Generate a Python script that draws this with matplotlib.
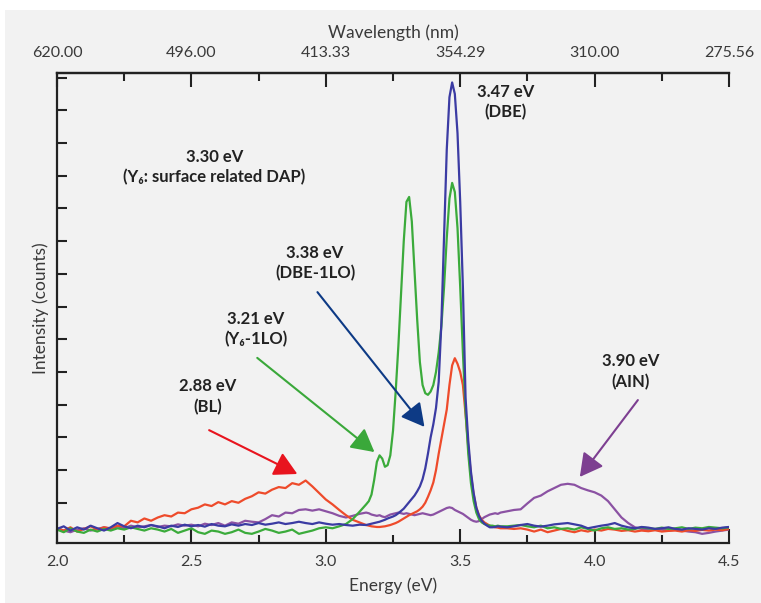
import numpy as np
import matplotlib
matplotlib.use('Agg')
import matplotlib.pyplot as plt
from matplotlib.patches import Rectangle

plt.rcParams['font.family'] = ['Lato', 'DejaVu Sans']

# energy sampling (eV): coarse on the flat parts, fine across the band-edge peaks
energy_left = np.round(np.arange(2.0, 3.126, 0.025), 3)    # 46 pts
energy_mid = np.round(np.arange(3.15, 3.651, 0.01), 2)     # 51 pts
energy_right = np.round(np.arange(3.675, 4.501, 0.025), 3)  # 34 pts
energy = np.concatenate([energy_left, energy_mid, energy_right])

# intensities (arb. units, one y tick = 1)
red_bl = [
    0.22, 0.15, 0.25, 0.12, 0.20, 0.28, 0.18, 0.25, 0.22, 0.30,
    0.28, 0.45, 0.40, 0.52, 0.45, 0.55, 0.62, 0.58, 0.70, 0.68,
    0.80, 0.85, 0.95, 0.90, 1.02, 0.95, 1.05, 1.00, 1.12, 1.20,
    1.32, 1.28, 1.40, 1.48, 1.45, 1.60, 1.55, 1.68, 1.50, 1.30,
    1.10, 0.95, 0.78, 0.62, 0.48, 0.40,
    0.32, 0.30, 0.28, 0.27, 0.26, 0.26, 0.27, 0.28, 0.30, 0.32,
    0.35, 0.38, 0.42, 0.47, 0.52, 0.57, 0.62, 0.66, 0.70, 0.74,
    0.80, 0.88, 1.00, 1.18, 1.38, 1.62, 2.00, 2.50, 2.95, 3.40,
    3.85, 4.60, 5.20, 5.42, 5.25, 5.00, 4.60, 3.70, 2.70, 1.85,
    1.25, 0.85, 0.62, 0.48, 0.40, 0.35, 0.30, 0.27, 0.25, 0.24,
    0.22,
    0.22, 0.20, 0.22, 0.18, 0.12, 0.18, 0.10, 0.15, 0.20, 0.14,
    0.10, 0.16, 0.12, 0.18, 0.15, 0.20, 0.18, 0.14, 0.16, 0.12,
    0.15, 0.13, 0.16, 0.12, 0.14, 0.15, 0.12, 0.16, 0.14, 0.17,
    0.15, 0.18, 0.16, 0.20,
]
green_y6 = [
    0.18, 0.10, 0.22, 0.12, 0.08, 0.18, 0.12, 0.20, 0.15, 0.22,
    0.18, 0.25, 0.20, 0.15, 0.22, 0.18, 0.12, 0.20, 0.08, 0.15,
    0.22, 0.10, 0.05, 0.15, 0.12, 0.05, 0.10, 0.18, 0.08, 0.05,
    0.12, 0.20, 0.15, 0.08, 0.12, 0.18, 0.05, 0.10, 0.15, 0.22,
    0.25, 0.22, 0.28, 0.35, 0.50, 0.72,
    0.95, 1.05, 1.25, 1.70, 2.25, 2.45, 2.35, 2.10, 2.15, 2.45,
    3.20, 4.40, 5.80, 7.40, 9.00, 10.20, 10.35, 9.60, 8.10, 6.60,
    5.30, 4.60, 4.35, 4.30, 4.40, 4.60, 5.00, 5.60, 6.40, 7.60,
    9.10, 10.30, 10.78, 10.50, 9.40, 7.60, 5.60, 3.80, 2.50, 1.60,
    1.05, 0.70, 0.50, 0.40, 0.35, 0.32, 0.30, 0.30, 0.28, 0.30,
    0.28,
    0.28, 0.30, 0.32, 0.28, 0.25, 0.30, 0.22, 0.25, 0.20, 0.22,
    0.18, 0.25, 0.20, 0.15, 0.22, 0.25, 0.20, 0.22, 0.18, 0.20,
    0.25, 0.22, 0.20, 0.24, 0.20, 0.22, 0.25, 0.20, 0.24, 0.22,
    0.26, 0.24, 0.22, 0.25,
]
blue_dbe = [
    0.20, 0.28, 0.15, 0.25, 0.18, 0.30, 0.22, 0.15, 0.25, 0.38,
    0.28, 0.22, 0.30, 0.25, 0.32, 0.28, 0.22, 0.30, 0.26, 0.33,
    0.28, 0.32, 0.27, 0.35, 0.30, 0.28, 0.34, 0.30, 0.35, 0.32,
    0.38, 0.33, 0.36, 0.40, 0.35, 0.38, 0.42, 0.38, 0.35, 0.40,
    0.36, 0.33, 0.35, 0.32, 0.30, 0.33,
    0.32, 0.34, 0.36, 0.38, 0.40, 0.42, 0.45, 0.48, 0.52, 0.55,
    0.58, 0.62, 0.68, 0.75, 0.82, 0.92, 1.02, 1.12, 1.22, 1.35,
    1.50, 1.72, 2.05, 2.50, 3.00, 3.40, 3.90, 4.70, 6.50, 9.20,
    11.80, 13.40, 13.85, 13.50, 12.30, 10.20, 7.60, 4.20, 2.90, 1.95,
    1.30, 0.85, 0.60, 0.45, 0.36, 0.30, 0.25, 0.25, 0.26, 0.28,
    0.27,
    0.25, 0.28, 0.32, 0.35, 0.30, 0.27, 0.30, 0.34, 0.36, 0.38,
    0.34, 0.30, 0.22, 0.26, 0.30, 0.33, 0.38, 0.30, 0.25, 0.22,
    0.26, 0.24, 0.20, 0.22, 0.25, 0.20, 0.18, 0.22, 0.20, 0.18,
    0.22, 0.20, 0.24, 0.26,
]
purple_aln = [
    0.22, 0.15, 0.10, 0.18, 0.22, 0.15, 0.20, 0.25, 0.20, 0.28,
    0.22, 0.30, 0.25, 0.28, 0.32, 0.26, 0.30, 0.28, 0.34, 0.30,
    0.33, 0.28, 0.36, 0.32, 0.38, 0.30, 0.40, 0.36, 0.45, 0.42,
    0.40, 0.50, 0.62, 0.58, 0.70, 0.68, 0.78, 0.80, 0.76, 0.80,
    0.74, 0.68, 0.60, 0.55, 0.60, 0.66,
    0.70, 0.68, 0.64, 0.62, 0.60, 0.62, 0.58, 0.56, 0.60, 0.64,
    0.66, 0.68, 0.70, 0.68, 0.66, 0.68, 0.66, 0.64, 0.62, 0.64,
    0.66, 0.68, 0.66, 0.64, 0.62, 0.64, 0.68, 0.72, 0.76, 0.80,
    0.84, 0.86, 0.84, 0.78, 0.74, 0.70, 0.66, 0.60, 0.54, 0.48,
    0.44, 0.42, 0.44, 0.50, 0.56, 0.60, 0.64, 0.66, 0.68, 0.66,
    0.70,
    0.74, 0.78, 0.80, 0.98, 1.15, 1.22, 1.35, 1.45, 1.55, 1.58,
    1.55, 1.45, 1.38, 1.32, 1.22, 1.05, 0.80, 0.55, 0.38, 0.25,
    0.20, 0.18, 0.20, 0.18, 0.15, 0.18, 0.15, 0.12, 0.10, 0.05,
    0.08, 0.12, 0.15, 0.18,
]

energy_ticks = [2.0, 2.5, 3.0, 3.5, 4.0, 4.5]
energy_labels = ['2.0', '2.5', '3.0', '3.5', '4.0', '4.5']
minor_ticks = [2.25, 2.75, 3.25, 3.75, 4.25]
wavelength_labels = ['620.00', '496.00', '413.33', '354.29', '310.00', '275.56']

# (text, text pos, arrow tail, arrow tip, arrow colour)
notes = [
    ('3.47 eV\n(DBE)', (3.67, 13.25), None, None, None),
    ('3.30 eV\n(Y\u2086: surface related DAP)', (2.585, 11.26), None, None, None),
    ('3.38 eV\n(DBE-1LO)', (2.96, 8.33), (2.969, 7.44), (3.367, 3.32), '#0d3a85'),
    ('3.21 eV\n(Y\u2086-1LO)', (2.74, 6.31), (2.745, 5.43), (3.181, 2.55), '#3aa83a'),
    ('2.88 eV\n(BL)', (2.56, 4.24), (2.566, 3.22), (2.894, 1.88), '#e8141e'),
    ('3.90 eV\n(AIN)', (4.135, 5.0), (4.161, 4.14), (3.945, 1.79), '#7d3f91'),
]

bg = '#f2f2f2'
ink = '#3a3a3a'

fig = plt.figure(figsize=(7.61, 6.03), dpi=100)
fig.patch.set_facecolor('white')
fig.patches.append(Rectangle((5 / 761, 0), 1, 1 - 10 / 603, transform=fig.transFigure,
                             facecolor=bg, edgecolor='none', zorder=-10))
ax = fig.add_axes([57 / 761, 1 - 543 / 603, 672 / 761, 470 / 603])
ax.set_facecolor(bg)

ax.plot(energy, purple_aln, color='#8b52a3', lw=1.6)
ax.plot(energy, red_bl, color='#ee4b2b', lw=1.6)
ax.plot(energy, green_y6, color='#3bab3b', lw=1.6)
ax.plot(energy, blue_dbe, color='#3b3ba3', lw=1.6)

ax.set_xlim(2.0, 4.5)
ax.set_ylim(-0.23, 14.14)

ax.set_xticks(energy_ticks, labels=energy_labels)
ax.set_xticks(minor_ticks, minor=True)
ax.set_yticks(range(1, 15))
ax.tick_params(axis='x', which='major', direction='in', length=10, width=1.5,
               pad=9, labelsize=11.5, labelcolor=ink, color='#222222')
ax.tick_params(axis='x', which='minor', direction='in', length=6, width=1.5,
               color='#222222')
ax.tick_params(axis='y', direction='in', length=7, width=1.5, labelleft=False,
               color='#222222')
for side in ['left', 'bottom', 'top']:
    ax.spines[side].set_linewidth(1.6)
    ax.spines[side].set_color('#222222')
ax.spines['right'].set_visible(False)

ax.set_xlabel('Energy (eV)', fontsize=12.5, color=ink, labelpad=6)
ax.set_ylabel('Intensity (counts)', fontsize=12.5, color=ink, labelpad=6)

sec = ax.secondary_xaxis('top')
sec.set_xticks(energy_ticks, labels=wavelength_labels)
sec.set_xticks(minor_ticks, minor=True)
sec.tick_params(axis='x', which='major', direction='in', length=10, width=1.5,
                pad=9, labelsize=11.5, labelcolor=ink, color='#222222')
sec.tick_params(axis='x', which='minor', direction='in', length=6, width=1.5,
                color='#222222')
sec.spines['top'].set_linewidth(1.6)
sec.spines['top'].set_color('#222222')
sec.set_xlabel('Wavelength (nm)', fontsize=12.5, color=ink, labelpad=6)

for text, pos, tail, tip, col in notes:
    ax.text(pos[0], pos[1], text, ha='center', va='center', fontsize=12,
            fontweight='bold', color='#222222', linespacing=1.35)
    if tail is not None:
        ax.annotate('', xy=tip, xytext=tail,
                    arrowprops=dict(arrowstyle='-|>,head_length=0.7,head_width=0.38',
                                    color=col, lw=1.5, mutation_scale=20,
                                    shrinkA=0, shrinkB=0))

fig.savefig('out.png', dpi=100, facecolor=fig.get_facecolor())
